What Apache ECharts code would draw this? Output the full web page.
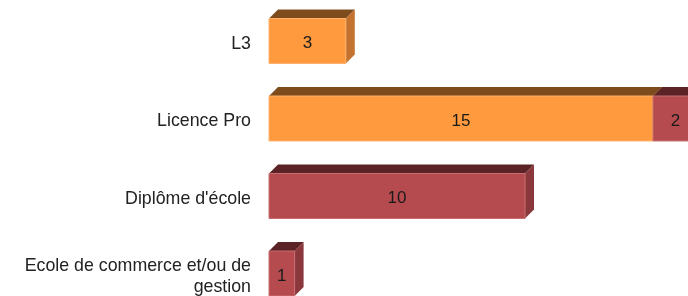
<!DOCTYPE html>
<html>
<head>
<meta charset="utf-8">
<script src="https://cdn.jsdelivr.net/npm/echarts@6/dist/echarts.min.js"></script>
<style>
  html, body { margin: 0; padding: 0; background: #fff; }
  #main { width: 688px; height: 296px; }
</style>
</head>
<body>
<div id="main"></div>
<script>
// données
var categories = ['L3', 'Licence Pro', "Diplôme d'école", 'Ecole de commerce et/ou de\ngestion'];
var serieOrange = [3, 15, 0, 0];
var serieRouge = [0, 2, 10, 1];

var depth = 9;

function buildData(values, bases) {
    var out = [];
    for (var i = 0; i < values.length; i++) {
        if (values[i] > 0) {
            out.push([i, values[i], bases ? bases[i] : 0]);
        }
    }
    return out;
}

function makeRender(front, top, side, edge) {
    return function (params, api) {
        var cat = api.value(0);
        var v = api.value(1);
        var base = api.value(2);
        var p0 = api.coord([base, cat]);
        var p1 = api.coord([base + v, cat]);
        var h = api.size([0, 1])[1] * 0.58;
        var x0 = p0[0], x1 = p1[0];
        var y0 = p0[1] - h / 2, y1 = p0[1] + h / 2;
        var d = depth;
        return {
            type: 'group',
            children: [
                {
                    type: 'polygon',
                    shape: { points: [[x0, y0], [x1, y0], [x1 + d, y0 - d], [x0 + d, y0 - d]] },
                    style: { fill: top }
                },
                {
                    type: 'polygon',
                    shape: { points: [[x1, y0], [x1 + d, y0 - d], [x1 + d, y1 - d], [x1, y1]] },
                    style: { fill: side }
                },
                {
                    type: 'rect',
                    shape: { x: x0, y: y0, width: x1 - x0, height: y1 - y0 },
                    style: { fill: front, stroke: edge, lineWidth: 1 }
                },
                {
                    type: 'text',
                    style: {
                        text: String(v),
                        x: (x0 + Math.min(x1, 698)) / 2,
                        y: (y0 + y1) / 2 + 2.5,
                        align: 'center',
                        verticalAlign: 'middle',
                        fill: '#1a1a1a',
                        font: '17px "Liberation Sans", Arial, sans-serif'
                    }
                }
            ]
        };
    };
}

var myChart = echarts.init(document.getElementById('main'));
var option = {
    animation: false,
    grid: {
        left: 269,
        top: 2.25,
        width: 512,
        height: 310,
        containLabel: false,
        outerBoundsMode: 'none'
    },
    xAxis: {
        type: 'value',
        min: 0,
        max: 20,
        show: false
    },
    yAxis: {
        type: 'category',
        inverse: true,
        data: categories,
        axisLine: { show: false },
        axisTick: { show: false },
        splitLine: { show: false },
        axisLabel: {
            margin: 18,
            formatter: function (v) {
                return v.split('\n').map(function (s) { return '{a|' + s + '}'; }).join('\n');
            },
            rich: {
                a: {
                    fontSize: 17.8,
                    lineHeight: 21,
                    padding: [6, 0, 0, 0],
                    color: '#222',
                    fontFamily: '"Liberation Sans", Arial, sans-serif'
                }
            }
        }
    },
    series: [
        {
            name: 'Série 1',
            type: 'custom',
            renderItem: makeRender('#FF9A3F', '#7E4C1C', '#C3732F', '#FFB26E'),
            data: buildData(serieOrange, null)
        },
        {
            name: 'Série 2',
            type: 'custom',
            renderItem: makeRender('#B54B4F', '#5B2326', '#8B383C', '#C86E72'),
            data: buildData(serieRouge, serieOrange)
        }
    ]
};
myChart.setOption(option);
</script>
</body>
</html>
